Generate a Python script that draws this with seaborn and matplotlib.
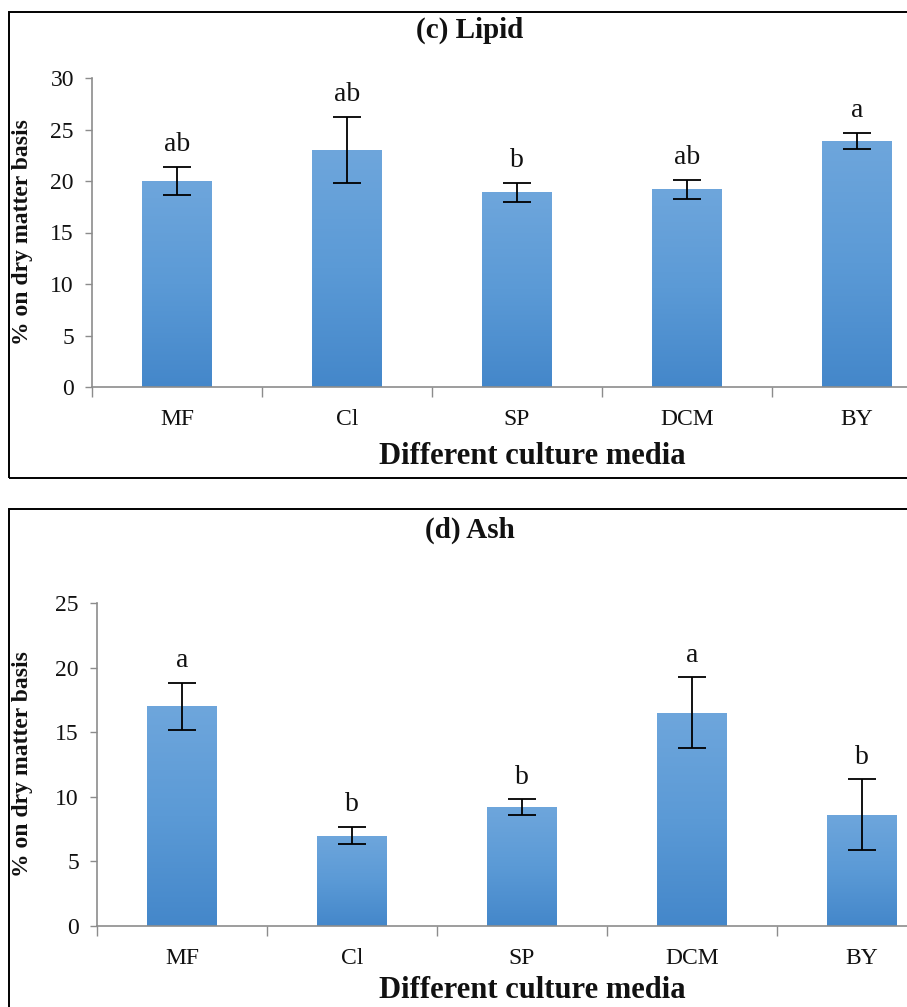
import numpy as np
import pandas as pd
import matplotlib
matplotlib.use("Agg")
import matplotlib.pyplot as plt
from matplotlib.colors import LinearSegmentedColormap
from matplotlib.patches import Rectangle
import seaborn as sns

# Proximate composition of the culture media
media = ["MF", "Cl", "SP", "DCM", "BY"]

lipid_mean = [20.0, 23.0, 18.9, 19.2, 23.9]
lipid_sd = [1.4, 3.2, 0.9, 0.9, 0.75]
lipid_letters = ["ab", "ab", "b", "ab", "a"]

ash_mean = [17.0, 7.0, 9.2, 16.5, 8.6]
ash_sd = [1.8, 0.65, 0.6, 2.75, 2.75]
ash_letters = ["a", "b", "b", "a", "b"]

lipid_ticks = [0, 5, 10, 15, 20, 25, 30]
ash_ticks = [0, 5, 10, 15, 20, 25]

sns.set_theme(style="white")
plt.rcParams["font.family"] = ["Liberation Serif", "DejaVu Serif"]

W, H = 907, 1007
fig = plt.figure(figsize=(W / 100, H / 100), dpi=100)

grad_cmap = LinearSegmentedColormap.from_list("bar_grad", ["#4487CA", "#5B9AD6", "#6EA6DC"])
AXIS_GRAY = "#8C8C8C"
INK = "#111111"


def px_box(left, top, right, bottom):
    """Axes rectangle in figure fraction from pixel edges."""
    return [left / W, 1 - bottom / H, (right - left) / W, (bottom - top) / H]


def draw_panel(ax, means, sds, letters, ticks, title, title_y, xlabel_y, ylabel_x):
    df = pd.DataFrame({"media": media, "value": means})
    sns.barplot(data=df, x="media", y="value", ax=ax, color="#5B9BD5",
                width=0.41, errorbar=None, zorder=2)

    # vertical gradient fill inside each bar
    grad = np.linspace(0, 1, 256).reshape(-1, 1)
    for patch in ax.patches:
        x0, y0 = patch.get_x(), patch.get_y()
        w, h = patch.get_width(), patch.get_height()
        patch.set_facecolor("none")
        patch.set_edgecolor("none")
        im = ax.imshow(grad, cmap=grad_cmap, origin="lower", aspect="auto",
                       extent=[x0, x0 + w, y0, y0 + h], zorder=2,
                       interpolation="bilinear")
        im.set_clip_path(patch)

    xs = np.arange(len(media))
    ax.errorbar(xs, means, yerr=sds, fmt="none", ecolor="black",
                elinewidth=1.3, capsize=10, capthick=1.3, zorder=4)

    for x, m, s, lab in zip(xs, means, sds, letters):
        ax.annotate(lab, xy=(x, m + s), xytext=(0, 7), textcoords="offset points",
                    ha="center", va="bottom", fontsize=20, color=INK)

    ax.set_xlim(-0.5, len(media) - 0.5)
    ax.set_ylim(ticks[0], ticks[-1])
    ax.set_yticks(ticks)
    ax.set_xticks(xs)
    ax.set_xticklabels(media)
    ax.set_xticks(np.arange(-0.5, len(media), 1.0), minor=True)
    ax.tick_params(axis="x", which="major", length=0, pad=16, labelsize=17,
                   labelcolor=INK)
    ax.tick_params(axis="x", which="minor", length=7, width=1.0,
                   color=AXIS_GRAY, direction="out", bottom=True)
    ax.tick_params(axis="y", length=5, width=1.0, color=AXIS_GRAY,
                   direction="out", left=True, pad=8, labelsize=17,
                   labelcolor=INK)
    for side in ("top", "right"):
        ax.spines[side].set_visible(False)
    for side in ("left", "bottom"):
        ax.spines[side].set_color(AXIS_GRAY)
        ax.spines[side].set_linewidth(1.2)
    ax.set_xlabel("")
    ax.set_ylabel("")
    ax.set_facecolor("none")

    fig.text(470 / W, 1 - title_y / H, title, ha="center", va="center",
             fontsize=21, fontweight="bold", color=INK)
    fig.text(532 / W, 1 - xlabel_y / H, "Different culture media", ha="center",
             va="center", fontsize=22, fontweight="bold", color=INK)
    ax_c = ax.get_position()
    fig.text(ylabel_x / W, ax_c.y0 + ax_c.height / 2, "% on dry matter basis",
             rotation=90, ha="center", va="center", fontsize=17,
             fontweight="bold", color=INK)


ax1 = fig.add_axes(px_box(92, 78, 942, 387))
draw_panel(ax1, lipid_mean, lipid_sd, lipid_letters, lipid_ticks,
           "(c) Lipid", 30, 457, 23)

ax2 = fig.add_axes(px_box(97, 603, 947, 926))
draw_panel(ax2, ash_mean, ash_sd, ash_letters, ash_ticks,
           "(d) Ash", 530, 991, 23)

# frames around the two panels
fig.patches.append(Rectangle((9 / W, 1 - 478 / H), 1.0, (478 - 12) / H,
                             transform=fig.transFigure, fill=False,
                             edgecolor="black", linewidth=1.4))
fig.patches.append(Rectangle((9 / W, 1 - 1030 / H), 1.0, (1030 - 509) / H,
                             transform=fig.transFigure, fill=False,
                             edgecolor="black", linewidth=1.4))

fig.savefig("out.png", dpi=100, facecolor="white")
